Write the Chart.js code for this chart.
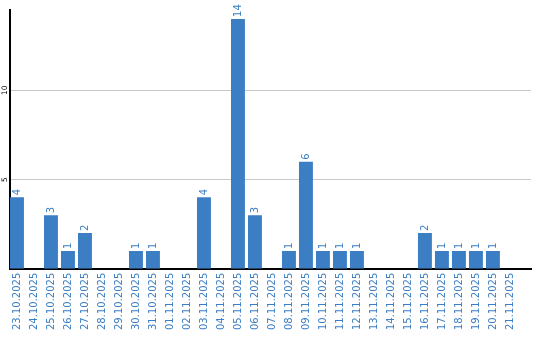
<!DOCTYPE html>
<html>
<head>
<meta charset="utf-8">
<script src="https://cdn.jsdelivr.net/npm/chart.js@4.4.1/dist/chart.umd.min.js"></script>
<style>
  html, body { margin: 0; padding: 0; background: #fff; }
  #wrap { width: 540px; height: 340px; }
</style>
</head>
<body>
<div id="wrap"><canvas id="chart" width="540" height="340"></canvas></div>
<script>
const dates = [
    '23.10.2025', '24.10.2025', '25.10.2025', '26.10.2025', '27.10.2025',
    '28.10.2025', '29.10.2025', '30.10.2025', '31.10.2025', '01.11.2025',
    '02.11.2025', '03.11.2025', '04.11.2025', '05.11.2025', '06.11.2025',
    '07.11.2025', '08.11.2025', '09.11.2025', '10.11.2025', '11.11.2025',
    '12.11.2025', '13.11.2025', '14.11.2025', '15.11.2025', '16.11.2025',
    '17.11.2025', '18.11.2025', '19.11.2025', '20.11.2025', '21.11.2025'
];
const counts = [4, 0, 3, 1, 2, 0, 0, 1, 1, 0, 0, 4, 0, 14, 3, 0, 1, 6, 1, 1, 1, 0, 0, 0, 2, 1, 1, 1, 1, 0];
const yTicks = [5, 10];

const BLUE = '#3b7ec4';
const FONT = "'DejaVu Sans', sans-serif";

// rotated value labels above the bars + rotated y tick labels
const textPlugin = {
    id: 'rotatedText',
    afterDatasetsDraw(chart) {
        const ctx = chart.ctx;
        const meta = chart.getDatasetMeta(0);
        ctx.save();
        ctx.fillStyle = BLUE;
        ctx.font = '10px ' + FONT;
        ctx.textAlign = 'left';
        ctx.textBaseline = 'middle';
        meta.data.forEach((bar, i) => {
            const v = counts[i];
            if (!v) return;
            ctx.save();
            ctx.translate(bar.x, bar.y - 2);
            ctx.rotate(-Math.PI / 2);
            ctx.fillText(String(v), 0, 0);
            ctx.restore();
        });

        const y = chart.scales.y;
        ctx.fillStyle = '#000';
        ctx.font = '7.5px ' + FONT;
        ctx.textAlign = 'center';
        yTicks.forEach(t => {
            ctx.save();
            ctx.translate(chart.chartArea.left - 5, y.getPixelForValue(t));
            ctx.rotate(-Math.PI / 2);
            ctx.fillText(String(t), 0, 0);
            ctx.restore();
        });
        ctx.restore();
    }
};

new Chart(document.getElementById('chart'), {
    type: 'bar',
    data: {
        datasets: [{
            data: counts.map((v, i) => ({ x: i, y: v })),
            backgroundColor: BLUE,
            borderWidth: 0,
            barPercentage: 0.82,
            categoryPercentage: 1
        }]
    },
    options: {
        responsive: false,
        devicePixelRatio: 1,
        animation: false,
        layout: { padding: { left: 10, right: 9, top: 10, bottom: 6 } },
        plugins: {
            legend: { display: false },
            tooltip: { enabled: false }
        },
        scales: {
            x: {
                type: 'linear',
                offset: false,
                min: -0.41,
                max: 30.24,
                afterBuildTicks: s => { s.ticks = dates.map((d, i) => ({ value: i })); },
                grid: { display: false, drawTicks: false },
                border: { display: true, color: '#000', width: 2 },
                ticks: {
                    callback: v => dates[v],
                    color: BLUE,
                    font: { family: FONT, size: 10 },
                    minRotation: 90,
                    maxRotation: 90,
                    autoSkip: false,
                    padding: 4
                }
            },
            y: {
                min: 0,
                max: 14.5,
                afterBuildTicks: s => { s.ticks = yTicks.map(v => ({ value: v })); },
                grid: { color: '#c8c8c8', lineWidth: 1, drawTicks: false },
                border: { display: true, color: '#000', width: 2 },
                ticks: { display: false }
            }
        }
    },
    plugins: [textPlugin]
});
</script>
</body>
</html>
